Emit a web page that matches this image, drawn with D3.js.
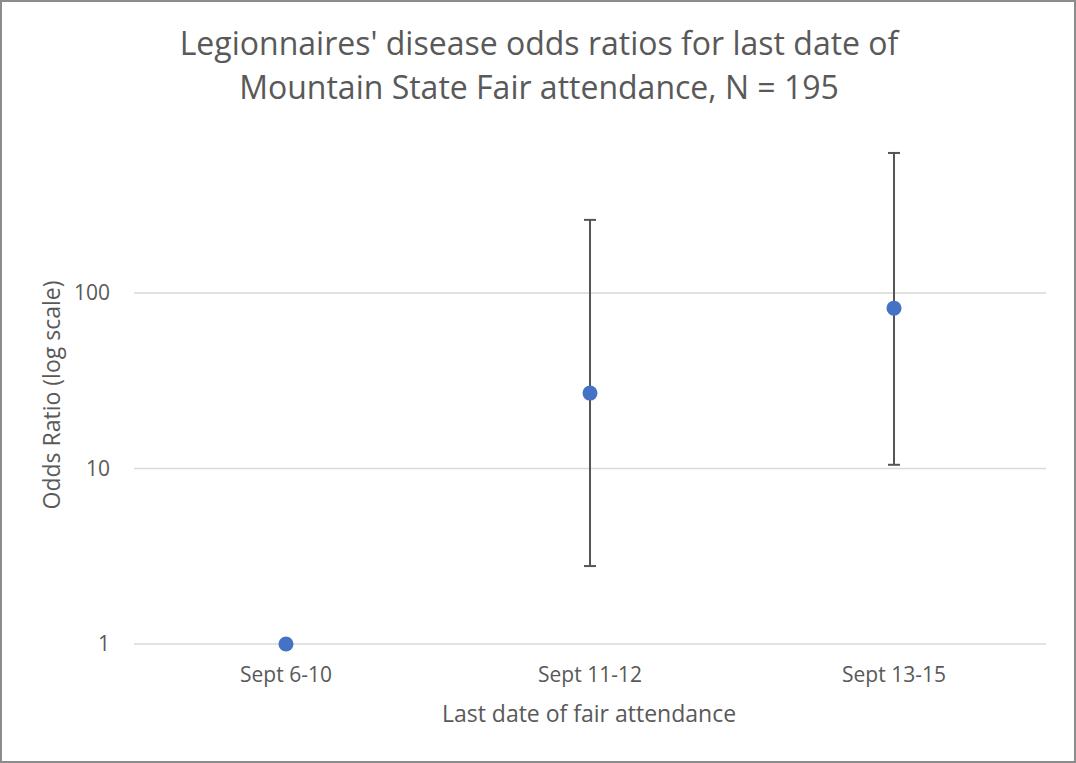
<!DOCTYPE html>
<html><head><meta charset="utf-8">
<script src="https://cdn.jsdelivr.net/npm/d3@7"></script>
<style>body{margin:0;background:#fff}svg{display:block}</style>
</head><body>
<svg id="c" width="1076" height="763"></svg>
<script>
const categories = ["Sept 6-10", "Sept 11-12", "Sept 13-15"];
const oddsRatios = [1, 26.9, 82];
const lowerCI = [null, 2.78, 10.5];
const upperCI = [null, 261, 628];
const yTicks = [1, 10, 100];
const titleLines = ["Legionnaires' disease odds ratios for last date of", "Mountain State Fair attendance, N = 195"];

const svg = d3.select("#c");
const W = 1076, H = 763;
const m = {left: 134, right: 1046, top: 117.5, bottom: 644};
const font = "'Open Sans', sans-serif";
const txt = "#595959";

svg.append("rect").attr("x", 1).attr("y", 1).attr("width", W - 2).attr("height", H - 2)
  .attr("fill", "#fff").attr("stroke", "#8c8c8c").attr("stroke-width", 2);

const x = d3.scaleBand().domain(categories).range([m.left, m.right]);
const y = d3.scaleLog().domain([1, 1000]).range([m.bottom, m.top]);

// gridlines
svg.append("g").selectAll("line").data(yTicks).join("line")
  .attr("x1", m.left).attr("x2", m.right)
  .attr("y1", d => y(d)).attr("y2", d => y(d))
  .attr("stroke", "#d9d9d9").attr("stroke-width", 1.5);

// y axis
const yAxis = d3.axisLeft(y).tickValues(yTicks).tickFormat(d3.format("d")).tickSize(0).tickPadding(24);
const ga = svg.append("g").attr("transform", `translate(${m.left},0)`).call(yAxis);
ga.select(".domain").remove();
ga.selectAll("text").attr("fill", txt).attr("font-family", font).attr("font-size", 21);

// x axis
const xAxis = d3.axisBottom(x).tickSize(0).tickPadding(23);
const gx = svg.append("g").attr("transform", `translate(0,${m.bottom})`).call(xAxis);
gx.select(".domain").remove();
gx.selectAll("text").attr("fill", txt).attr("font-family", font).attr("font-size", 21);

// error bars
const eb = categories.map((c, i) => ({c, lo: lowerCI[i], hi: upperCI[i]})).filter(d => d.lo != null);
const g = svg.append("g");
g.selectAll(".v").data(eb).join("line")
  .attr("x1", d => x(d.c) + x.bandwidth() / 2).attr("x2", d => x(d.c) + x.bandwidth() / 2)
  .attr("y1", d => y(d.lo)).attr("y2", d => y(d.hi))
  .attr("stroke", "#555").attr("stroke-width", 2);
["lo", "hi"].forEach(k => {
  g.selectAll(".c" + k).data(eb).join("line")
    .attr("x1", d => x(d.c) + x.bandwidth() / 2 - 6).attr("x2", d => x(d.c) + x.bandwidth() / 2 + 6)
    .attr("y1", d => y(d[k])).attr("y2", d => y(d[k]))
    .attr("stroke", "#555").attr("stroke-width", 2);
});

// points
svg.append("g").selectAll("circle").data(categories).join("circle")
  .attr("cx", d => x(d) + x.bandwidth() / 2)
  .attr("cy", (d, i) => y(oddsRatios[i]))
  .attr("r", 7.5).attr("fill", "#4472c4");

// title
svg.append("g").selectAll("text").data(titleLines).join("text")
  .attr("x", 539).attr("y", (d, i) => 55 + i * 44)
  .attr("text-anchor", "middle").attr("fill", txt)
  .attr("font-family", font).attr("font-size", 32).text(d => d);

// axis titles
svg.append("text").attr("x", 589).attr("y", 722).attr("text-anchor", "middle")
  .attr("fill", txt).attr("font-family", font).attr("font-size", 23)
  .text("Last date of fair attendance");
svg.append("text").attr("transform", "translate(60,395) rotate(-90)").attr("text-anchor", "middle")
  .attr("fill", txt).attr("font-family", font).attr("font-size", 23)
  .text("Odds Ratio (log scale)");
</script>
</body></html>
